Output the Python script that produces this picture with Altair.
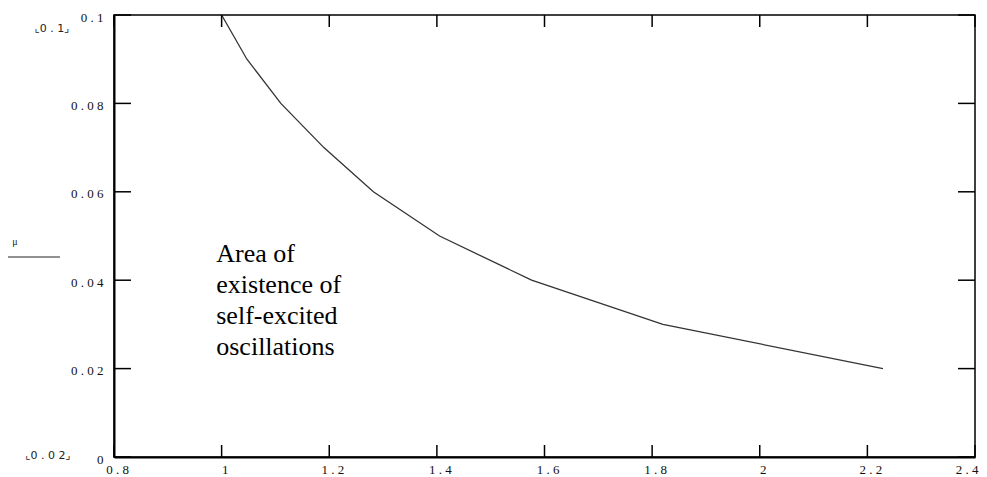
import altair as alt
import pandas as pd

# curve
ratio = [1.0, 1.047, 1.11, 1.19, 1.282, 1.405, 1.576, 1.82, 2.229]
mu = [0.10, 0.09, 0.08, 0.07, 0.06, 0.05, 0.04, 0.03, 0.02]

x_ticks = [0.8, 1.0, 1.2, 1.4, 1.6, 1.8, 2.0, 2.2, 2.4]
y_ticks = [0.0, 0.02, 0.04, 0.06, 0.08, 0.10]

note_lines = ["Area of", "existence of", "self-excited", "oscillations"]
note_x = [0.99]
note_y = [0.0488]

W, H = 861, 442
FONT = "Liberation Serif"

curve = pd.DataFrame({"x": ratio, "y": mu})
xt = pd.DataFrame({"x": x_ticks})
yt = pd.DataFrame({"y": y_ticks})
note = pd.DataFrame({"x": note_x, "y": note_y, "t": ["\n".join(note_lines)]})

xscale = alt.Scale(domain=[0.8, 2.4], nice=False, zero=False)
yscale = alt.Scale(domain=[0.0, 0.1], nice=False, zero=False)

spaced = "join(split(format(datum.value, '~g'), ''), ' ')"

line = alt.Chart(curve).mark_line(color="#333333", strokeWidth=1.3).encode(
    x=alt.X("x:Q", scale=xscale,
            axis=alt.Axis(values=x_ticks, title=None, ticks=False, grid=False,
                          domainColor="black", domainWidth=2,
                          labelExpr=spaced, labelFlush=False, labelPadding=6,
                          labelOffset=3, labelFont=FONT, labelFontSize=13,
                          labelAlign={"condition": {"test": "datum.value >= 2.39",
                                                    "value": "right"},
                                      "value": "center"},
                          labelColor="#111111", labelOverlap=False)),
    y=alt.Y("y:Q", scale=yscale,
            axis=alt.Axis(values=y_ticks, title=None, ticks=False, grid=False,
                          domainColor="black", domainWidth=2,
                          labelExpr=spaced, labelFlush=False, labelPadding=11,
                          labelOffset=2, labelFont=FONT, labelFontSize=13,
                          labelColor="#111111", labelOverlap=False)),
)

tick_bottom = alt.Chart(xt).mark_rule(color="black", strokeWidth=1.5).encode(
    x=alt.X("x:Q", scale=xscale), y=alt.value(H), y2=alt.value(H - 12))
tick_top = alt.Chart(xt).mark_rule(color="black", strokeWidth=1.5).encode(
    x=alt.X("x:Q", scale=xscale), y=alt.value(0), y2=alt.value(12))
tick_left = alt.Chart(yt).mark_rule(color="black", strokeWidth=1.5).encode(
    y=alt.Y("y:Q", scale=yscale), x=alt.value(0), x2=alt.value(17))
tick_right = alt.Chart(yt).mark_rule(color="black", strokeWidth=1.5).encode(
    y=alt.Y("y:Q", scale=yscale), x=alt.value(W - 17), x2=alt.value(W))

note_text = alt.Chart(note).mark_text(
    align="left", baseline="top", font=FONT, fontSize=26, lineBreak="\n",
    lineHeight=31, color="black").encode(
    x=alt.X("x:Q", scale=xscale), y=alt.Y("y:Q", scale=yscale), text="t:N")

mu_label = alt.Chart(pd.DataFrame({"t": ["μ"]})).mark_text(
    font=FONT, fontSize=10, color="#222222").encode(
    x=alt.value(-99), y=alt.value(227), text="t:N")
mu_bar = alt.Chart(pd.DataFrame({"t": ["μ"]})).mark_rule(
    color="#222222", strokeWidth=1).encode(
    x=alt.value(-107), x2=alt.value(-54), y=alt.value(242))

lims = alt.Chart(pd.DataFrame({"t": ["⌞0 . 1⌟", "⌞0 . 0 2⌟"],
                               "px": [-62, -66], "py": [14, 441]})).mark_text(
    font="DejaVu Sans", fontSize=11, color="#222222").encode(
    x=alt.X("px:Q", scale=None), y=alt.Y("py:Q", scale=None), text="t:N")

chart = alt.layer(
    line, tick_bottom, tick_top, tick_left, tick_right, note_text,
    mu_label, mu_bar, lims
).properties(
    width=W, height=H,
    autosize=alt.AutoSizeParams(type="none"),
    padding={"left": 106, "top": 7, "right": 4, "bottom": 20},
).configure_view(stroke="black", strokeWidth=1.5)

chart.save("out.html", embed_options={"renderer": "svg", "actions": False})
